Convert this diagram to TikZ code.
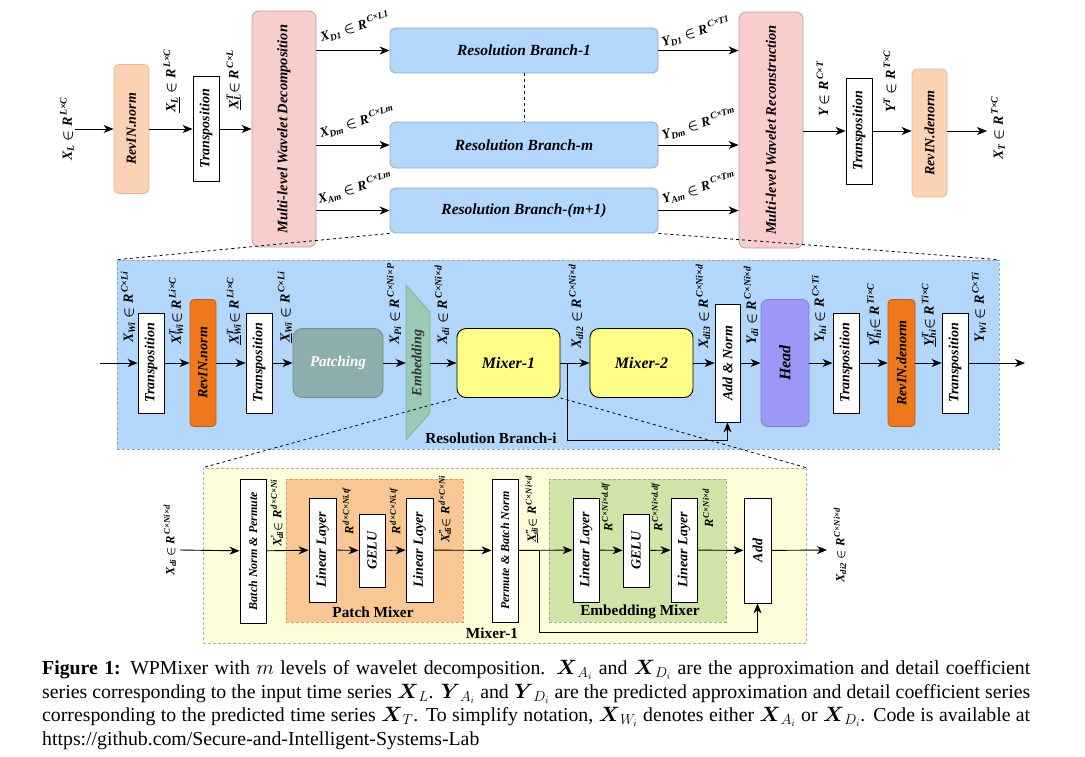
\documentclass[tikz,border=0pt]{standalone}
\usepackage{fontspec}
\setmainfont{Liberation Serif}
\usepackage{amsmath,amssymb}
\usetikzlibrary{arrows.meta, positioning}

\definecolor{peach}{HTML}{FAD2B4}
\definecolor{peachline}{HTML}{EDB48C}
\definecolor{pinkbox}{HTML}{F8CECC}
\definecolor{pinkline}{HTML}{B9A3A3}
\definecolor{skybox}{HTML}{B3D7FB}
\definecolor{skyline}{HTML}{90A8C4}
\definecolor{revdark}{HTML}{F0781C}
\definecolor{revline}{HTML}{C65A12}
\definecolor{patchfill}{HTML}{8EADAD}
\definecolor{patchline}{HTML}{6D9090}
\definecolor{embfill}{HTML}{9CC9B3}
\definecolor{embline}{HTML}{80B39A}
\definecolor{mixfill}{HTML}{FFFF88}
\definecolor{headfill}{HTML}{9D98F8}
\definecolor{headline}{HTML}{7F7AE6}
\definecolor{ivory}{HTML}{FDFDDA}
\definecolor{ivoryline}{HTML}{B0B0B0}
\definecolor{pmfill}{HTML}{F9C793}
\definecolor{pmline}{HTML}{E89A62}
\definecolor{emfill}{HTML}{CFE4A6}
\definecolor{emline}{HTML}{A6A6A6}

% subscript and superscript stacked
\newcommand{\subsup}[2]{\setbox0\hbox{\textsubscript{#1}}\setbox2\hbox{\textsuperscript{#2}}%
  \ifdim\wd0>\wd2 \rlap{\box2}\box0\else\rlap{\box0}\box2\fi}

\begin{document}
\begin{tikzpicture}[
        x=1pt, y=-1pt,
        every node/.style={inner sep=0pt},
        arr/.style={-{Stealth[length=10pt, width=8pt, inset=3pt]}, line width=0.9pt},
        txt/.style={font=\bfseries\itshape\fontsize{14}{16}\selectfont},
        vbox/.style={draw, line width=0.8pt, fill=white, rotate=90, txt},
        wh/.style 2 args={minimum height=#1, minimum width=#2},
        lbl/.style={rotate=90, font=\bfseries\itshape\boldmath\fontsize{14}{15}\selectfont},
        slbl/.style={rotate=17, font=\bfseries\itshape\boldmath\fontsize{13.5}{15}\selectfont},
        blbl/.style={rotate=90, font=\bfseries\itshape\boldmath\fontsize{12.5}{14}\selectfont},
        big/.style={font=\bfseries\itshape\fontsize{16}{18}\selectfont},
        title/.style={font=\bfseries\fontsize{15.3}{17}\selectfont},
        panel/.style={draw, dash pattern=on 3pt off 2pt, line width=0.6pt},
        zoomline/.style={dashed, line width=0.8pt}
    ]
    \useasboundingbox (0,0) rectangle (1085,756);

    % top: decomposition and reconstruction
    \node[vbox, wh={35pt}{129pt}, fill=peach, draw=peachline, rounded corners=5pt] (revA) at (131.5,129) {RevIN.norm};
    \node[vbox, wh={26pt}{105pt}] (tA) at (206,129) {Transposition};
    \node[vbox, wh={64pt}{236pt}, fill=pinkbox, draw=pinkline, rounded corners=7pt,
        font=\bfseries\itshape\fontsize{14.5}{16}\selectfont] (dec) at (284,129) {Multi-level Wavelet Decomposition};
    \node[txt, font=\bfseries\itshape\fontsize{15.5}{17}\selectfont, draw=skyline, fill=skybox, rounded corners=6pt, line width=0.8pt, minimum width=268pt, minimum height=45pt] (rb1) at (524,50.5) {Resolution Branch-1};
    \node[txt, font=\bfseries\itshape\fontsize{15.5}{17}\selectfont, draw=skyline, fill=skybox, rounded corners=6pt, line width=0.8pt, minimum width=268pt, minimum height=46pt] (rbm) at (524,145) {Resolution Branch-m};
    \node[txt, font=\bfseries\itshape\fontsize{15.5}{17}\selectfont, draw=skyline, fill=skybox, rounded corners=6pt, line width=0.8pt, minimum width=268pt, minimum height=45pt] (rbA) at (524,210.5) {Resolution Branch-(m+1)};
    \node[vbox, wh={64pt}{236pt}, fill=pinkbox, draw=pinkline, rounded corners=7pt,
        font=\bfseries\itshape\fontsize{14.5}{16}\selectfont] (rec) at (771,130) {Multi-level Wavelet Reconstruction};
    \node[vbox, wh={26pt}{106pt}] (tB) at (859,131) {Transposition};
    \node[vbox, wh={35pt}{128pt}, fill=peach, draw=peachline, rounded corners=5pt] (revB) at (929.5,133) {RevIN.denorm};

    \coordinate (inA) at (75,129);
    \coordinate (outA) at (987,131);
    \draw[arr] (inA) -- (revA);
    \draw[arr] (revA) -- (tA);
    \draw[arr] (tA) -- (dec);
    \draw[arr] (dec.south |- rb1) -- (rb1);
    \draw[arr] (dec.south |- rbm) -- (rbm);
    \draw[arr] (dec.south |- rbA) -- (rbA);
    \draw[arr] (rb1) -- (rec.north |- rb1);
    \draw[arr] (rbm) -- (rec.north |- rbm);
    \draw[arr] (rbA) -- (rec.north |- rbA);
    \draw[arr] (rec.south |- outA) -- (tB);
    \draw[arr] (tB.south |- outA) -- (tB.south -| revB.north);
    \draw[arr] (revB.south |- outA) -- (outA);
    \draw[dashed, line width=0.8pt] (rb1.south) -- (rbm.north);

    \node[lbl] (lXL) at (67,129) {X\textsubscript{L} $\in$ R\textsuperscript{\,L×C}};
    \node[lbl, anchor=west] (lXLn) at (172,113) {\underline{X\textsubscript{L}} $\in$ R\textsuperscript{\,L×C}};
    \node[lbl, anchor=west] (lXLT) at (234,110) {\underline{X}\subsup{L}{T} $\in$ R\textsuperscript{\,C×L}};
    \node[slbl] (lXD1) at (355,27) {X\textsubscript{D1} $\in$ R\textsuperscript{\,C×L1}};
    \node[slbl] (lXDm) at (357,122) {X\textsubscript{Dm} $\in$ R\textsuperscript{\,C×Lm}};
    \node[slbl] (lXAm) at (355,188) {X\textsubscript{Am} $\in$ R\textsuperscript{\,C×Lm}};
    \node[slbl] (lYD1) at (696,32) {Y\textsubscript{D1} $\in$ R\textsuperscript{\,C×T1}};
    \node[slbl] (lYDm) at (699,124) {Y\textsubscript{Dm} $\in$ R\textsuperscript{\,C×Tm}};
    \node[slbl] (lYAm) at (699,188) {Y\textsubscript{Am} $\in$ R\textsuperscript{\,C×Tm}};
    \node[lbl, anchor=west] (lY) at (823,117) {Y$\,\in$ R\textsuperscript{\,C×T}};
    \node[lbl, anchor=west] (lYT) at (890,113) {Y\textsuperscript{T} $\in$ R\textsuperscript{\,T×C}};
    \node[lbl] (lXT) at (998,128) {X\textsubscript{T} $\in$ R\textsuperscript{\,T×C}};

    % middle: one resolution branch
    \node[panel, draw=skyline, fill=skybox, minimum width=882pt, minimum height=189pt] (branch) at (558,354.5) {};
    \node[title] (brlbl) at (491,438) {Resolution Branch-i};
    \draw[zoomline] (rbA.south west) -- (branch.north west);
    \draw[zoomline] (rbA.south east) -- (branch.north east);

    \node[vbox, wh={26pt}{100pt}] (t1) at (151,363) {Transposition};
    \node[vbox, wh={26pt}{127pt}, fill=revdark, draw=revline, rounded corners=4pt] (rv1) at (203,363) {RevIN.norm};
    \node[vbox, wh={26pt}{100pt}] (t2) at (259,363) {Transposition};
    \node[big, draw=patchline, fill=patchfill, rounded corners=9pt, line width=0.8pt, minimum width=90pt, minimum height=69pt,
        text=white, font=\bfseries\itshape\fontsize{15}{17}\selectfont] (pat) at (338,363) {Patching};
    \draw[draw=embline, fill=embfill, line width=0.8pt] (406,285) -- (430,312) -- (430,413) -- (406,440) -- cycle;
    \node[rotate=90, txt, wh={24pt}{101pt}, text=black!80] (emb) at (418,363) {Embedding};
    \node[big, draw, fill=mixfill, rounded corners=9pt, line width=0.9pt, minimum width=103pt, minimum height=69pt] (mx1) at (508.5,363) {Mixer-1};
    \node[big, draw, fill=mixfill, rounded corners=9pt, line width=0.9pt, minimum width=103pt, minimum height=69pt] (mx2) at (641.5,363) {Mixer-2};
    \node[vbox, wh={25pt}{118pt}] (an) at (727.5,363) {Add \& Norm};
    \node[vbox, wh={48pt}{127pt}, fill=headfill, draw=headline, rounded corners=7pt, big] (hd) at (785,363) {Head};
    \node[vbox, wh={26pt}{100pt}] (t3) at (846,363) {Transposition};
    \node[vbox, wh={27pt}{127pt}, fill=revdark, draw=revline, rounded corners=4pt] (rv2) at (901.5,363) {RevIN.denorm};
    \node[vbox, wh={26pt}{100pt}] (t4) at (955,363) {Transposition};

    \coordinate (inB) at (100,363);
    \coordinate (outB) at (1025,363);
    \coordinate (sp1) at (567,363);
    \draw[arr] (inB) -- (t1);
    \draw[arr] (t1) -- (rv1);
    \draw[arr] (rv1) -- (t2);
    \draw[arr] (t2) -- (pat);
    \draw[arr] (pat) -- (emb);
    \draw[arr] (emb) -- (mx1);
    \draw[arr] (mx1) -- (mx2);
    \draw[arr] (sp1) -- (567,440) -| (an.west);
    \draw[arr] (mx2) -- (an);
    \draw[arr] (an) -- (hd);
    \draw[arr] (hd) -- (t3);
    \draw[arr] (t3) -- (rv2);
    \draw[arr] (rv2) -- (t4);
    \draw[arr] (t4) -- (outB);

    \node[lbl, anchor=west] (lW1) at (128,343) {X\textsubscript{Wi} $\in$ R\textsuperscript{\,C×Li}};
    \node[lbl, anchor=west] (lW2) at (176,345) {X\subsup{Wi}{T} $\in$ R\textsuperscript{\,Li×C}};
    \node[lbl, anchor=west] (lW3) at (234,345) {\underline{X}\subsup{Wi}{T} $\in$ R\textsuperscript{\,Li×C}};
    \node[lbl, anchor=west] (lW4) at (285,343) {\underline{X}\textsubscript{Wi} $\in$ R\textsuperscript{\,C×Li}};
    \node[lbl, anchor=west] (lP) at (394,345) {X\textsubscript{Pi} $\in$ R\textsuperscript{\,C×Ni×P}};
    \node[lbl, anchor=west] (ld1) at (442,345) {X\textsubscript{di} $\in$ R\textsuperscript{\,C×Ni×d}};
    \node[lbl, anchor=west] (ld2) at (576,349) {X\textsubscript{di2} $\in$ R\textsuperscript{\,C×Ni×d}};
    \node[lbl, anchor=west] (ld3) at (703,349) {X\textsubscript{di3} $\in$ R\textsuperscript{\,C×Ni×d}};
    \node[lbl, anchor=west] (lYd) at (751,345) {Y\textsubscript{di} $\in$ R\textsuperscript{\,C×Ni×d}};
    \node[lbl, anchor=west] (lh1) at (819,343) {Y\textsubscript{hi} $\in$ R\textsuperscript{\,C×Ti}};
    \node[lbl, anchor=west] (lh2) at (874,347) {Y\subsup{hi}{T} $\in$ R\textsuperscript{\,Ti×C}};
    \node[lbl, anchor=west] (lh3) at (929,347) {\underline{Y}\subsup{hi}{T} $\in$ R\textsuperscript{\,Ti×C}};
    \node[lbl, anchor=west] (lYW) at (979,343) {Y\textsubscript{Wi} $\in$ R\textsuperscript{\,C×Ti}};

    % bottom: inside Mixer-1
    \node[panel, draw=ivoryline, fill=ivory, minimum width=603pt, minimum height=175pt] (mixer) at (504.5,555.5) {};
    \draw[zoomline] (mx1.south west) -- (mixer.north west);
    \draw[zoomline] (mx1.south east) -- (mixer.north east);
    \node[panel, draw=pmline, fill=pmfill, minimum width=177pt, minimum height=143pt] (pmx) at (374.5,550.5) {};
    \node[panel, draw=emline, fill=emfill, minimum width=177pt, minimum height=143pt] (emx) at (637.5,550.5) {};
    \node[title] (pmlbl) at (373,612) {Patch Mixer};
    \node[title] (emlbl) at (640,612) {Embedding Mixer};
    \node[title] (mxlbl) at (492,633) {Mixer-1};

    \begin{scope}[every node/.append style={font=\bfseries\itshape\fontsize{12}{14}\selectfont}]
    \node[vbox, wh={26pt}{144pt}, font=\bfseries\itshape\fontsize{12}{14}\selectfont] (bnp) at (253,551) {Batch Norm \& Permute};
    \node[vbox, wh={27pt}{104pt}] (ll1) at (322.5,550) {Linear Layer};
    \node[vbox, wh={26pt}{73pt}] (g1) at (372,550.5) {GELU};
    \node[vbox, wh={27pt}{104pt}] (ll2) at (419.5,550) {Linear Layer};
    \node[vbox, wh={26pt}{143pt}, font=\bfseries\itshape\fontsize{12}{14}\selectfont] (pbn) at (505,550.5) {Permute \& Batch Norm};
    \node[vbox, wh={26pt}{104pt}] (ll3) at (586,550) {Linear Layer};
    \node[vbox, wh={26pt}{73pt}] (g2) at (636,550.5) {GELU};
    \node[vbox, wh={26pt}{104pt}] (ll4) at (684,550) {Linear Layer};
    \node[vbox, wh={27pt}{105pt}] (add) at (757.5,550.5) {Add};
    \end{scope}

    \coordinate (inC) at (180,550);
    \coordinate (outC) at (827,550);
    \coordinate (sp2) at (539,550);
    \draw[arr] (inC) -- (bnp);
    \draw[arr] (bnp) -- (ll1);
    \draw[arr] (ll1) -- (g1);
    \draw[arr] (g1) -- (ll2);
    \draw[arr] (ll2) -- (pbn);
    \draw[arr] (pbn) -- (ll3);
    \draw[arr] (ll3) -- (g2);
    \draw[arr] (g2) -- (ll4);
    \draw[arr] (ll4) -- (add);
    \draw[arr] (sp2) -- (539,632) -| (add.west);
    \draw[arr] (add) -- (outC);

    \node[blbl] (lb0) at (170,540) {X\textsubscript{di} $\in$ R\textsuperscript{\,C×Ni×d}};
    \node[blbl, anchor=west] (lb1) at (277,547) {X\subsup{di}{'} $\in$ R\textsuperscript{\,d×C×Ni}};
    \node[blbl, anchor=west] (lb2) at (348,535) {R\textsuperscript{\,d×C×Ni.tf}};
    \node[blbl, anchor=west] (lb3) at (395,535) {R\textsuperscript{\,d×C×Ni.tf}};
    \node[blbl, anchor=west] (lb4) at (445,543) {X\subsup{di}{''} $\in$ R\textsuperscript{\,d×C×Ni}};
    \node[blbl, anchor=west] (lb5) at (532,543) {\underline{X}\subsup{di}{''} $\in$ R\textsuperscript{\,C×Ni×d}};
    \node[blbl, anchor=west] (lb6) at (607,532) {R\textsuperscript{\,C×Ni×d.df}};
    \node[blbl, anchor=west] (lb7) at (657,532) {R\textsuperscript{\,C×Ni×d.df}};
    \node[blbl, anchor=west] (lb8) at (708,528) {R\textsuperscript{\,C×Ni×d}};
    \node[blbl] (lb9) at (840,545) {X\textsubscript{di2} $\in$ R\textsuperscript{\,C×Ni×d}};

    % caption
    \node[anchor=north west, text width=988pt, align=justify, font=\fontsize{19.8}{23.6}\selectfont] (cap) at (42,660)
        {\textbf{Figure 1:} WPMixer with $m$ levels of wavelet decomposition. $\boldsymbol{X}_{A_i}$ and $\boldsymbol{X}_{D_i}$ are the approximation and detail coefficient\linebreak
        series corresponding to the input time series $\boldsymbol{X}_L$. $\boldsymbol{Y}_{A_i}$ and $\boldsymbol{Y}_{D_i}$ are the predicted approximation and detail coefficient series\linebreak
        corresponding to the predicted time series $\boldsymbol{X}_T$. To simplify notation, $\boldsymbol{X}_{W_i}$ denotes either $\boldsymbol{X}_{A_i}$ or $\boldsymbol{X}_{D_i}$. Code is available at\linebreak
        https://github.com/Secure-and-Intelligent-Systems-Lab};
\end{tikzpicture}
\end{document}
